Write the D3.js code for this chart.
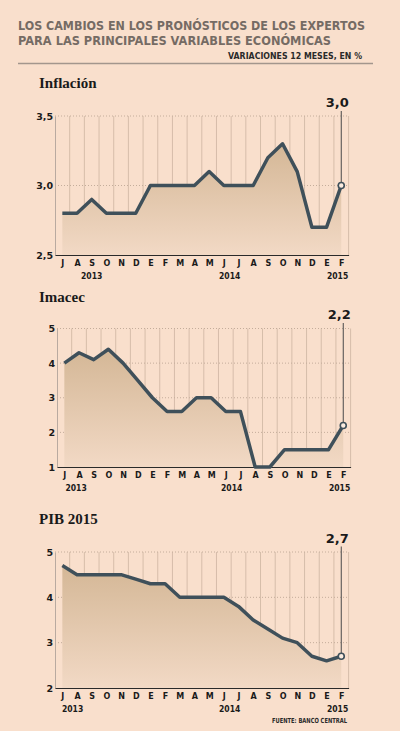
<!DOCTYPE html>
<html>
<head>
<meta charset="utf-8">
<script src="https://cdn.jsdelivr.net/npm/d3@7"></script>
<style>
  body { margin: 0; background: #f9dfcc; }
  svg { display: block; }
</style>
</head>
<body>
<svg id="chart" width="400" height="731"></svg>
<script>
// months Jul 2013 - Feb 2015
var months = ["J","A","S","O","N","D","E","F","M","A","M","J","J","A","S","O","N","D","E","F"];
var years = ["2013", "2014", "2015"];

var inflacion = [2.8,2.8,2.9,2.8,2.8,2.8,3.0,3.0,3.0,3.0,3.1,3.0,3.0,3.0,3.2,3.3,3.1,2.7,2.7,3.0];
var imacec    = [4.0,4.3,4.1,4.4,4.0,3.5,3.0,2.6,2.6,3.0,3.0,2.6,2.6,1.0,1.0,1.5,1.5,1.5,1.5,2.2];
var pib2015   = [4.7,4.5,4.5,4.5,4.5,4.4,4.3,4.3,4.0,4.0,4.0,4.0,3.8,3.5,3.3,3.1,3.0,2.7,2.6,2.7];

var inflacionTicks = [2.5, 3.0, 3.5];
var imacecTicks = [1, 2, 3, 4, 5];
var pibTicks = [2, 3, 4, 5];

var svg = d3.select("svg#chart");
var lineColor = "#3f505a";
var es = d3.formatLocale({decimal: ",", thousands: ".", grouping: [3], currency: ["$", ""]});

// header
svg.append("text").attr("x", 18).attr("y", 29.5)
   .attr("textLength", 347).attr("lengthAdjust", "spacingAndGlyphs")
   .style("font", "bold 11.5px 'DejaVu Sans'").style("fill", "#756b64")
   .text("LOS CAMBIOS EN LOS PRONÓSTICOS DE LOS EXPERTOS");
svg.append("text").attr("x", 18).attr("y", 44.5)
   .attr("textLength", 313).attr("lengthAdjust", "spacingAndGlyphs")
   .style("font", "bold 11.5px 'DejaVu Sans'").style("fill", "#756b64")
   .text("PARA LAS PRINCIPALES VARIABLES ECONÓMICAS");
svg.append("text").attr("x", 228).attr("y", 58.5)
   .attr("textLength", 134).attr("lengthAdjust", "spacingAndGlyphs")
   .style("font", "bold 8.5px 'DejaVu Sans'").style("fill", "#2a2a2a")
   .text("VARIACIONES 12 MESES, EN %");
svg.append("line").attr("x1", 18).attr("x2", 373).attr("y1", 63.5).attr("y2", 63.5)
   .style("stroke", "#a3968d").style("stroke-width", 1.5);

// footer
svg.append("text").attr("x", 272).attr("y", 722.5)
   .attr("textLength", 75).attr("lengthAdjust", "spacingAndGlyphs")
   .style("font", "bold 7px 'DejaVu Sans'").style("fill", "#2a2a2a")
   .text("FUENTE: BANCO CENTRAL");

// gradient for the area
var grad = svg.append("defs").append("linearGradient")
   .attr("id", "areaFill").attr("x1", 0).attr("y1", 0).attr("x2", 0).attr("y2", 1);
grad.append("stop").attr("offset", "0%").attr("stop-color", "#d4b796");
grad.append("stop").attr("offset", "100%").attr("stop-color", "#f2d9c5");

var panels = [
  {title: "Inflación", titleY: 88, data: inflacion, ticks: inflacionTicks, fmt: es.format(".1f"),
   left: 55, right: 348.6, top: 116, bottom: 255, labelY: 107, year0: 2},
  {title: "Imacec", titleY: 302, data: imacec, ticks: imacecTicks, fmt: es.format("d"),
   left: 57, right: 350.6, top: 328.5, bottom: 467, labelY: 319, year0: 0.8},
  {title: "PIB 2015", titleY: 524, data: pib2015, ticks: pibTicks, fmt: es.format("d"),
   left: 55, right: 348.6, top: 552, bottom: 688, labelY: 542.5, year0: 0.7}
];

panels.forEach(function(p) {
  var g = svg.append("g");
  var x = d3.scalePoint().domain(d3.range(months.length)).range([p.left, p.right]).padding(0.5);
  var y = d3.scaleLinear().domain(d3.extent(p.ticks)).range([p.bottom, p.top]);
  var step = x.step();

  g.append("text").attr("x", 39).attr("y", p.titleY)
   .style("font", "bold 15px 'Liberation Serif'").style("fill", "#1a1a1a")
   .text(p.title);

  // vertical grid
  g.selectAll("line.vgrid").data(d3.range(months.length)).enter().append("line")
   .attr("class", "vgrid")
   .attr("x1", function(i) { return x(i) + step / 2; })
   .attr("x2", function(i) { return x(i) + step / 2; })
   .attr("y1", p.top).attr("y2", p.bottom)
   .style("stroke", "#d6bdaa").style("stroke-width", 1);

  // horizontal grid
  g.selectAll("line.hgrid").data(p.ticks.slice(1)).enter().append("line")
   .attr("class", "hgrid")
   .attr("x1", p.left).attr("x2", p.right)
   .attr("y1", function(d) { return y(d); }).attr("y2", function(d) { return y(d); })
   .style("stroke", "#c4ad9b").style("stroke-width", 1).style("stroke-dasharray", "1,2");

  // area
  var area = d3.area()
   .x(function(d, i) { return x(i); })
   .y0(p.bottom)
   .y1(function(d) { return y(d); });
  g.append("path").datum(p.data).attr("d", area).attr("fill", "url(#areaFill)");

  // y axis
  var yAxis = g.append("g").attr("transform", "translate(" + p.left + ",0)")
   .call(d3.axisLeft(y).tickValues(p.ticks).tickFormat(p.fmt).tickSize(0).tickPadding(2));
  yAxis.select(".domain").style("stroke", "#b9aaa0");
  yAxis.selectAll("text").style("font", "bold 9.5px 'DejaVu Sans'").style("fill", "#1a1a1a");

  // x axis
  var xAxis = g.append("g").attr("transform", "translate(0," + p.bottom + ")")
   .call(d3.axisBottom(x).tickFormat(function(i) { return months[i]; }).tickSize(0).tickSizeOuter(0).tickPadding(5));
  xAxis.select(".domain").style("stroke", "#2a2a2a");
  xAxis.selectAll("text").style("font", "bold 8px 'DejaVu Sans'").style("fill", "#1a1a1a");

  // year labels
  var yearPos = [p.year0, 11.4, 18.75];
  g.selectAll("text.year").data(years).enter().append("text")
   .attr("class", "year")
   .attr("x", function(d, i) { return x(0) + yearPos[i] * step; })
   .attr("y", p.bottom + 24)
   .attr("text-anchor", "middle")
   .style("font", "bold 8.5px 'DejaVu Sans'").style("font-stretch", "condensed")
   .style("fill", "#1a1a1a")
   .text(function(d) { return d; });

  // line
  var line = d3.line()
   .x(function(d, i) { return x(i); })
   .y(function(d) { return y(d); });
  g.append("path").datum(p.data).attr("d", line)
   .attr("fill", "none").style("stroke", lineColor).style("stroke-width", 3.5)
   .style("stroke-linejoin", "round");

  // last value callout
  var last = p.data.length - 1;
  g.append("line")
   .attr("x1", x(last)).attr("x2", x(last))
   .attr("y1", p.labelY + 4).attr("y2", y(p.data[last]) - 3)
   .style("stroke", "#4a4a4a").style("stroke-width", 1);
  g.append("circle").attr("cx", x(last)).attr("cy", y(p.data[last])).attr("r", 3)
   .attr("fill", "#fbece0").style("stroke", lineColor).style("stroke-width", 1.6);
  g.append("text").attr("x", x(last) - 4).attr("y", p.labelY)
   .attr("text-anchor", "middle")
   .style("font", "bold 13px 'DejaVu Sans'").style("fill", "#1a1a1a")
   .text(es.format(".1f")(p.data[last]));
});
</script>
</body>
</html>
